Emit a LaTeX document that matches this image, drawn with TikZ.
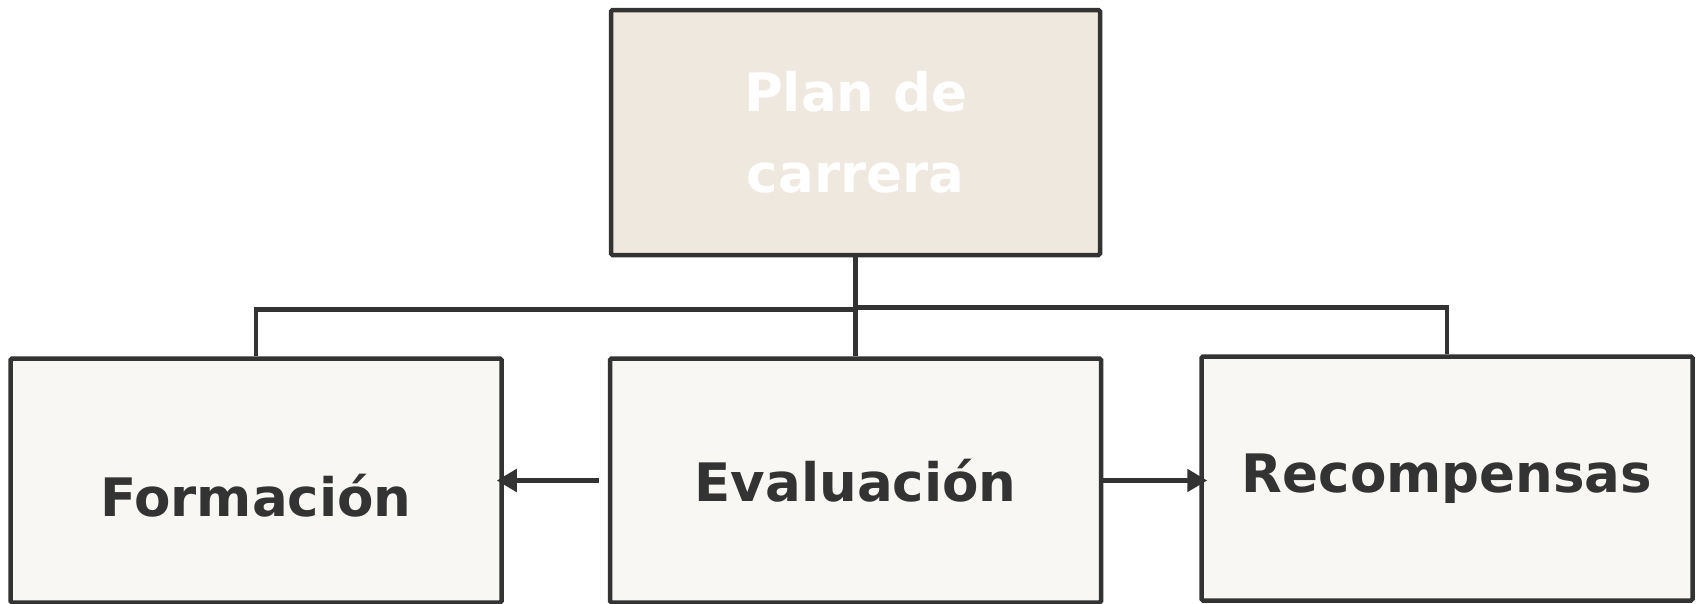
\documentclass[tikz,border=0pt]{standalone}
\usepackage{fontspec}
\setmainfont{DejaVu Sans}
\usepackage{tikz}
\usetikzlibrary{positioning,arrows.meta}
\definecolor{ink}{HTML}{333333}
\definecolor{topfill}{HTML}{EFE8DF}
\definecolor{boxfill}{HTML}{F8F7F3}
\tikzset{
	x=1pt,y=1pt,
	topbox/.style={rectangle,draw=ink,fill=topfill,line width=4.5pt,rounded corners=1.5pt,minimum width=489pt,minimum height=245pt,align=center,text=white,font=\fontsize{53}{81}\selectfont\bfseries},
	box/.style={rectangle,draw=ink,fill=boxfill,line width=4.5pt,rounded corners=1.5pt,minimum width=491pt,minimum height=244pt,text=ink,font=\fontsize{53}{62}\selectfont\bfseries},
	boxtext/.style={text=ink,font=\fontsize{53}{62}\selectfont\bfseries},
	link/.style={draw=ink,line width=4.5pt},
	flow/.style={draw=ink,line width=5.5pt,-{Triangle[length=20pt,width=22pt]}}
}
\begin{document}
\begin{tikzpicture}
\useasboundingbox (0,0) rectangle (1696,-603);
\node[topbox] (plan) at (855.5,-132.5) {Plan de\\carrera};
\node[box] (eval) [below=99pt of plan] {Evaluación};
\node[box] (form) [left=104pt of eval] {};
\node[boxtext] (formtxt) at ([yshift=-15pt]form.center) {Formación};
\node[box] (rec) [right=96pt of eval,yshift=2pt] {Recompensas};
% tree lines
\draw[link] (plan.south) -- (eval.north);
\draw[link] (plan.south) ++(0,-52) -| (form.north);
\draw[link] (plan.south) ++(0,-50) -| (rec.north);
% arrows
\draw[flow,shorten <=9pt,shorten >=-7pt] (eval.west) -- (form.east);
\draw[flow,shorten >=-8pt] (eval.east) -- (eval.east -| rec.west);
\end{tikzpicture}
\end{document}
